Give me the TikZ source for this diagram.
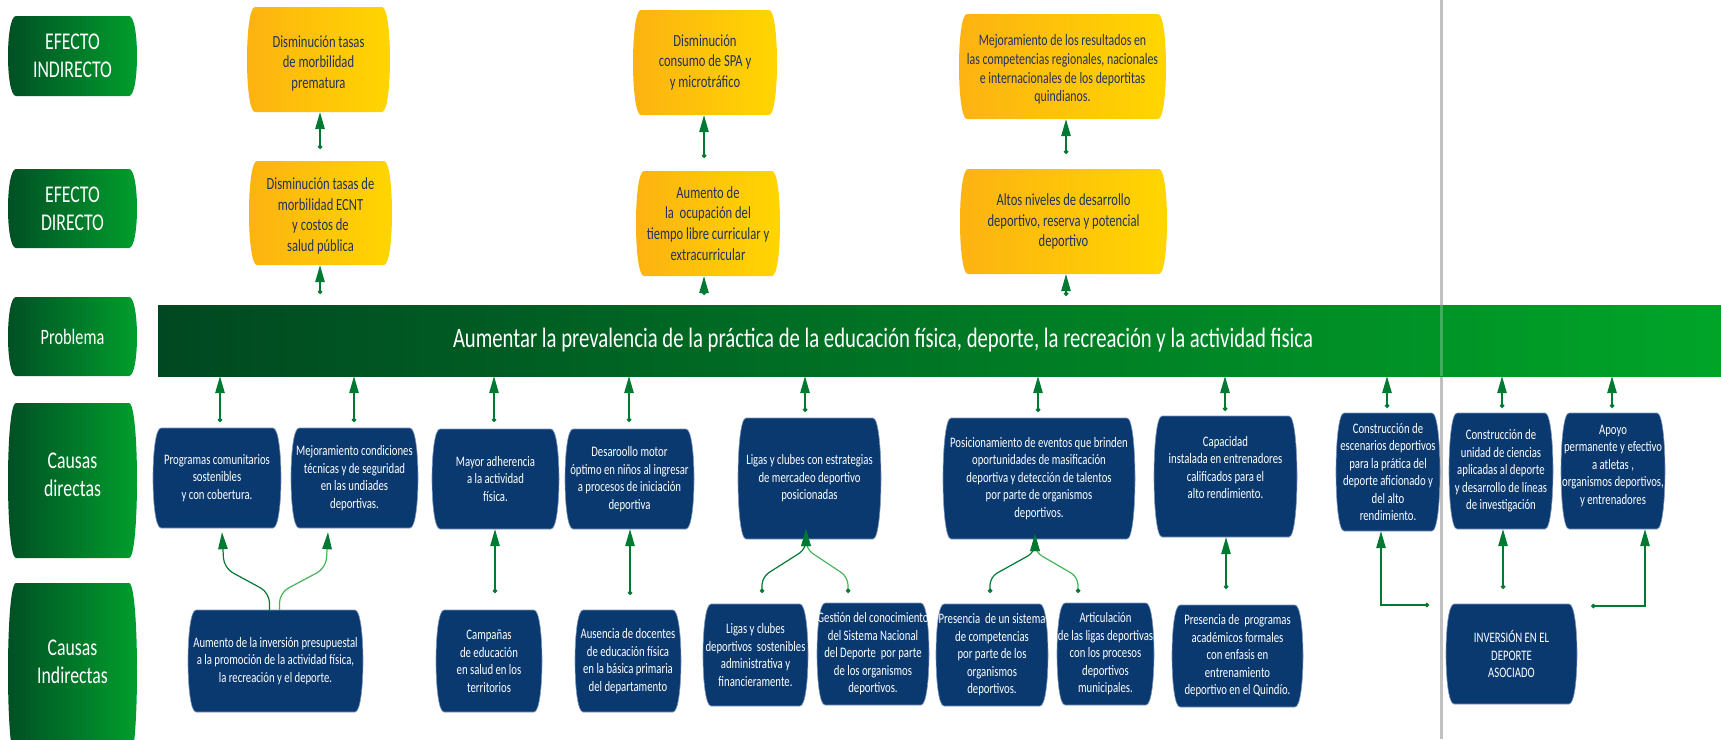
\documentclass[tikz,border=0pt]{standalone}
\usepackage{fontspec}
\setmainfont{Carlito}[FakeStretch=0.74]
\usetikzlibrary{arrows.meta,calc}
\definecolor{cgreen}{RGB}{0,122,51}
\definecolor{lgreen}{RGB}{70,180,90}
\definecolor{gdark}{RGB}{0,78,36}
\definecolor{glight}{RGB}{0,160,45}
\definecolor{pdark}{RGB}{0,72,33}
\definecolor{plight}{RGB}{0,165,40}
\definecolor{ydark}{RGB}{253,178,18}
\definecolor{ylight}{RGB}{255,214,0}
\definecolor{bblue}{RGB}{10,57,112}
\definecolor{bedge}{RGB}{125,150,190}
\definecolor{ytext}{RGB}{35,50,90}
\definecolor{sepgray}{RGB}{150,150,150}

% #1 name, #2 x1, #3 y1, #4 x2, #5 y2, #6 fill style, #7 text style, #8 text
\newcommand\bbox[8]{%
  \path[#6] ({#2+8},#3) -- ({#4-8},#3)
     .. controls ({#4+8/3},#3) and ({#4+8/3},#5) .. ({#4-8},#5)
     -- ({#2+8},#5)
     .. controls ({#2-8/3},#5) and ({#2-8/3},#3) .. cycle;
  \node[inner sep=0pt, minimum width={(#4-#2)*1pt}, minimum height={(#5-#3)*1pt}]
     (#1) at ({(#2+#4)/2},{(#3+#5)/2}) {};
  \node[#7] at (#1.center) {#8};
}

\begin{document}
\begin{tikzpicture}[x=1pt, y={(0pt,-1pt)},
  lab/.style={left color=gdark, right color=glight},
  yel/.style={left color=ydark, right color=ylight},
  blu/.style={fill=bblue, draw=bedge, line width=0.6pt},
  labtext/.style={text=white, font=\fontsize{24}{28}\selectfont, align=center},
  ytxt/.style={text=ytext, font=\fontsize{17}{20.7}\selectfont, align=center},
  btxt/.style={text=white, font=\fontsize{14.5}{17.5}\selectfont, align=center},
  conn/.style={draw=cgreen, line width=1.2pt, -{Triangle[width=9.5pt,length=17pt,color=cgreen]}},
  dconn/.style={conn, {Circle[length=4.5pt,color=cgreen]}-{Triangle[width=9.5pt,length=17pt,color=cgreen]}},
  ]
\useasboundingbox (0,0) rectangle (1721,739);
\clip (0,0) rectangle (1721,739);
\fill[white] (0,0) rectangle (1721,739);

% separator line
\draw[sepgray!60, line width=3pt] (1441,0) -- (1441,739);

% left labels
\bbox{LEI}{8}{16}{137}{96}{lab}{labtext}{EFECTO\\INDIRECTO}
\bbox{LED}{8}{169}{137}{248}{lab}{labtext}{EFECTO\\DIRECTO}
\bbox{LP}{8}{297}{137}{376}{lab}{labtext, font=\fontsize{22}{26}\selectfont}{Problema}
\bbox{LCD}{8}{403}{137}{558}{lab}{labtext, yshift=6pt}{Causas\\directas}
\bbox{LCI}{8}{583}{137}{760}{lab}{labtext, yshift=10pt}{Causas\\Indirectas}

% effects
\bbox{Y1a}{247}{7}{390}{112}{yel}{ytxt, yshift=-4pt}{Disminución tasas\\de morbilidad\\prematura}
\bbox{Y1b}{633}{10}{777}{115}{yel}{ytxt}{Disminución\\consumo de SPA y\\y microtráfico}
\bbox{Y1c}{959}{14}{1166}{119}{yel}{ytxt, font=\fontsize{16}{18.7}\selectfont, yshift=-3pt}{Mejoramiento de los resultados en\\las competencias regionales, nacionales\\e internacionales de los deportitas\\quindianos.}
\bbox{Y2a}{249}{161}{392}{265}{yel}{ytxt, yshift=-3pt}{Disminución tasas de\\morbilidad ECNT\\y costos de\\salud pública}
\bbox{Y2b}{636}{171}{780}{276}{yel}{ytxt}{Aumento de\\la~ ocupación del\\tiempo libre curricular y\\extracurricular}
\bbox{Y2c}{960}{169}{1167}{274}{yel}{ytxt}{Altos niveles de desarrollo\\deportivo, reserva y potencial\\deportivo}

% problem bar
\node[left color=pdark, right color=plight, inner sep=0pt, minimum width=1563pt, minimum height=71pt] (P) at (939.5,340.5) {};
\node[text=white, font=\fontsize{28}{32}\selectfont] (PT) at (883,340) {Aumentar la prevalencia de la práctica de la educación física, deporte, la recreación y la actividad fisica};

% direct causes
\bbox{CD1}{153}{428}{281}{528}{blu}{btxt}{Programas comunitarios\\sostenibles\\y con cobertura.}
\bbox{CD2}{291}{428}{418}{528}{blu}{btxt}{Mejoramiento condiciones\\técnicas y de seguridad\\en las undiades\\deportivas.}
\bbox{CD3}{432}{429}{559}{529}{blu}{btxt}{Mayor adherencia\\a la actividad\\física.}
\bbox{CD4}{565}{429}{694}{529}{blu}{btxt}{Desaroollo motor\\óptimo en niños al ingresar\\a procesos de iniciación\\deportiva}
\bbox{CD5}{738}{418}{881}{539}{blu}{btxt}{Ligas y clubes con estrategias\\de mercadeo deportivo\\posicionadas}
\bbox{CD6}{943}{418}{1135}{539}{blu}{btxt}{Posicionamiento de eventos que brinden\\oportunidades de masificación\\deportiva y detección de talentos\\por parte de organismos\\deportivos.}
\bbox{CD7}{1154}{416}{1297}{537}{blu}{btxt, yshift=9pt}{Capacidad\\instalada en entrenadores\\calificados para el\\alto rendimiento.}
\bbox{CD8}{1336}{413}{1440}{531}{blu}{btxt}{Construcción de\\escenarios deportivos\\para la prática del\\deporte aficionado y\\del alto\\rendimiento.}
\bbox{CD9}{1449}{413}{1553}{529}{blu}{btxt}{Construcción de\\unidad de ciencias\\aplicadas al deporte\\y desarrollo de líneas\\de investigación}
\bbox{CD10}{1561}{413}{1665}{529}{blu}{btxt, yshift=5pt}{Apoyo\\permanente y efectivo\\a atletas ,\\organismos deportivos,\\y entrenadores}

% indirect causes
\bbox{CI1}{188}{610}{363}{712}{blu}{btxt}{Aumento de la inversión presupuestal\\a la promoción de la actividad física,\\la recreación y el deporte.}
\bbox{CI2}{436}{610}{542}{712}{blu}{btxt}{Campañas\\de educación\\en salud en los\\territorios}
\bbox{CI3}{575}{610}{681}{712}{blu}{btxt}{Ausencia de docentes\\de educación física\\en la básica primaria\\del departamento}
\bbox{CI4}{703}{604}{808}{706}{blu}{btxt}{Ligas y clubes\\deportivos~ sostenibles\\administrativa y\\financieramente.}
\bbox{CI5}{817}{603}{929}{705}{blu}{btxt}{Gestión del conocimiento\\del Sistema Nacional\\del Deporte~ por parte\\de los organismos\\deportivos.}
\bbox{CI6}{936}{604}{1048}{706}{blu}{btxt}{Presencia~ de un sistema\\de competencias\\por parte de los\\organismos\\deportivos.}
\bbox{CI7}{1057}{603}{1154}{705}{blu}{btxt}{Articulación\\de las ligas deportivas\\con los procesos\\deportivos\\municipales.}
\bbox{CI8}{1172}{605}{1303}{707}{blu}{btxt}{Presencia de~ programas\\académicos formales\\con enfasis en\\entrenamiento\\deportivo en el Quindío.}
\bbox{CI9}{1446}{604}{1577}{704}{blu}{btxt}{INVERSIÓN EN EL\\DEPORTE\\ASOCIADO}

% separator over the bar (faint)
\draw[white, opacity=0.25, line width=3pt] (1441,305) -- (1441,376);

% effects connectors
\coordinate (a1) at (320,149); \draw[dconn] (a1) -- (a1 |- Y1a.south);
\coordinate (a2) at (704,158); \draw[dconn] (a2) -- (a2 |- Y1b.south);
\coordinate (a3) at (1066,154); \draw[dconn] (a3) -- (a3 |- Y1c.south);
\coordinate (b1) at (320,294); \draw[dconn] (b1) -- (b1 |- Y2a.south);
\coordinate (b2) at (704,295); \draw[dconn] (b2) -- (b2 |- Y2b.south);
\coordinate (b3) at (1066,296); \draw[dconn] (b3) -- (b3 |- Y2c.south);

% direct causes to problem
\foreach \n/\x/\y in {1/220/422, 2/354/422, 3/494/422, 4/629/422, 5/805/412, 6/1038/412, 7/1225/411, 8/1387/408, 9/1502/408, 10/1612/408}{
  \coordinate (p\n) at (\x,\y);
  \draw[dconn] (p\n) -- (p\n |- P.south);
}

% indirect to direct
\draw[conn, rounded corners=10pt] ([xshift=-6pt]CI1.north) -- ++(0,-17) -- (224,568) -- ([xshift=5pt,yshift=-4pt]CD1.south);
\draw[conn, draw=lgreen, rounded corners=10pt] ([xshift=4pt]CI1.north) -- ++(0,-17) -- (326,568) -- ([xshift=-26.5pt,yshift=-4pt]CD2.south);

\coordinate (c3) at (495,593); \draw[dconn] (c3) -- (c3 |- CD3.south);
\coordinate (c4) at (630,595); \draw[dconn] (c4) -- (c4 |- CD4.south);

\coordinate (c5l) at (762,593); \coordinate (c5r) at (848,593);
\draw[dconn, rounded corners=8pt] (c5l) -- ++(0,-16) -- (806,549) -- ([xshift=-3.5pt,yshift=10pt]CD5.south);
\draw[dconn, draw=lgreen, rounded corners=8pt] (c5r) -- ++(0,-16) -- (806,549) -- ([xshift=-3.5pt,yshift=10pt]CD5.south);

\coordinate (c6l) at (990,593); \coordinate (c6r) at (1078,593);
\draw[dconn, rounded corners=8pt] (c6l) -- ++(0,-16) -- (1035,552) -- ([xshift=-4pt,yshift=5pt]CD6.south);
\draw[dconn, draw=lgreen, rounded corners=8pt] (c6r) -- ++(0,-16) -- (1035,552) -- ([xshift=-4pt,yshift=5pt]CD6.south);

\coordinate (c7) at (1226,589); \draw[dconn] (c7) -- (c7 |- CD7.south);
\coordinate (c8) at (1429,605); \draw[dconn] (c8) -| ([xshift=-7pt]CD8.south);
\coordinate (c9) at (1503,589); \draw[dconn] (c9) -- (c9 |- CD9.south);
\coordinate (c10) at (1591,606); \draw[dconn] (c10) -| ([xshift=32pt]CD10.south);
\end{tikzpicture}
\end{document}
